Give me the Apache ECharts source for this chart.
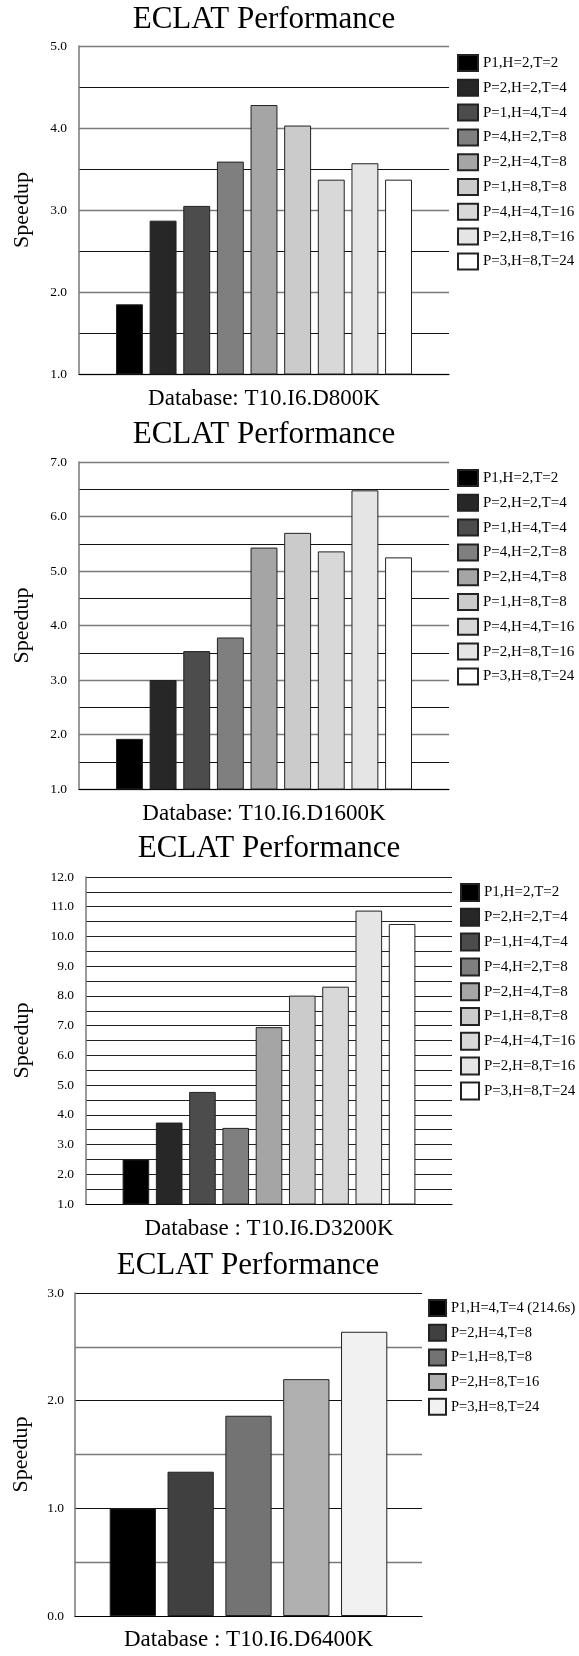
<!DOCTYPE html>
<html>
<head>
<meta charset="utf-8">
<script src="https://cdn.jsdelivr.net/npm/echarts@6/dist/echarts.min.js"></script>
<style>
  html, body { margin: 0; padding: 0; background: #fff; }
  .c { position: absolute; left: 0; width: 579px; }
</style>
</head>
<body>
<div id="c1" class="c" style="top:0px;height:415px"></div>
<div id="c2" class="c" style="top:415px;height:415px"></div>
<div id="c3" class="c" style="top:830px;height:415px"></div>
<div id="c4" class="c" style="top:1245px;height:411px"></div>
<script>
// ---- data ----
const titleText = 'ECLAT Performance';
const yAxisName = 'Speedup';

const names9 = ['P1,H=2,T=2', 'P=2,H=2,T=4', 'P=1,H=4,T=4', 'P=4,H=2,T=8', 'P=2,H=4,T=8',
                'P=1,H=8,T=8', 'P=4,H=4,T=16', 'P=2,H=8,T=16', 'P=3,H=8,T=24'];
const colors9 = ['#000000', '#272727', '#4c4c4c', '#7f7f7f', '#a5a5a5', '#cbcbcb', '#d8d8d8', '#e5e5e5', '#ffffff'];

const d800Name = 'Database: T10.I6.D800K';
const d800Values = [1.85, 2.87, 3.05, 3.59, 4.28, 4.03, 3.37, 3.57, 3.37];

const d1600Name = 'Database: T10.I6.D1600K';
const d1600Values = [1.92, 3.00, 3.53, 3.78, 5.43, 5.70, 5.36, 6.48, 5.25];

const d3200Name = 'Database : T10.I6.D3200K';
const d3200Values = [2.50, 3.74, 4.77, 3.56, 6.95, 8.01, 8.31, 10.87, 10.42];

const names5 = ['P1,H=4,T=4 (214.6s)', 'P=2,H=4,T=8', 'P=1,H=8,T=8', 'P=2,H=8,T=16', 'P=3,H=8,T=24'];
const colors5 = ['#000000', '#404040', '#737373', '#b0b0b0', '#f1f1f1'];
const d6400Name = 'Database : T10.I6.D6400K';
const d6400Values = [1.0, 1.34, 1.86, 2.20, 2.64];

// ---- chart builder ----
const FONT = '"Liberation Serif", "DejaVu Serif", "Times New Roman", serif';

function build(id, cfg) {
  const chart = echarts.init(document.getElementById(id), null, { renderer: 'canvas' });
  const series = cfg.names.map((n, i) => ({
    name: n,
    type: 'bar',
    data: [cfg.values[i]],
    barGap: '25%',
    barCategoryGap: '20%',
    itemStyle: { color: cfg.colors[i], borderColor: '#222', borderWidth: 1 },
    emphasis: { disabled: true },
    animation: false
  }));
  chart.setOption({
    backgroundColor: '#ffffff',
    animation: false,
    title: {
      text: titleText,
      left: cfg.titleX,
      top: cfg.titleTop,
      padding: 0,
      textAlign: 'center',
      textStyle: { fontFamily: FONT, fontSize: 31, fontWeight: 'normal', color: '#000' }
    },
    legend: {
      orient: 'vertical',
      left: cfg.legendLeft,
      top: cfg.legendTop,
      padding: 0,
      icon: 'rect',
      itemWidth: cfg.iconW,
      itemHeight: cfg.iconH,
      itemGap: cfg.legendGap,
      selectedMode: false,
      data: cfg.names,
      textStyle: { fontFamily: FONT, fontSize: cfg.legendFont, color: '#000', lineHeight: 16 }
    },
    grid: {
      left: cfg.left, right: cfg.right, top: cfg.top, bottom: cfg.bottom,
      containLabel: false
    },
    xAxis: {
      type: 'category',
      data: [''],
      name: cfg.xName,
      nameLocation: 'middle',
      nameGap: cfg.xNameGap,
      nameTextStyle: { fontFamily: FONT, fontSize: 23, color: '#000' },
      axisLine: { show: true, lineStyle: { color: '#000', width: 1.2 } },
      axisTick: { show: false },
      axisLabel: { show: false },
      splitLine: { show: false }
    },
    yAxis: {
      type: 'value',
      min: cfg.min,
      max: cfg.max,
      interval: 1,
      name: yAxisName,
      nameLocation: 'middle',
      nameGap: cfg.yNameGap,
      nameTextStyle: { fontFamily: FONT, fontSize: 22, color: '#000' },
      axisLine: { show: true, lineStyle: { color: '#777', width: 1.5 } },
      axisTick: { show: false },
      axisLabel: {
        fontFamily: FONT, fontSize: 13.5, color: '#000', margin: cfg.labelMargin,
        formatter: v => v.toFixed(1)
      },
      splitLine: { show: true, lineStyle: { color: cfg.majorColor, width: cfg.majorWidth } },
      minorTick: { show: false, splitNumber: 2 },
      minorSplitLine: { show: true, lineStyle: { color: cfg.minorColor, width: cfg.minorWidth } }
    },
    series: series
  });
}

build('c1', {
  names: names9, colors: colors9, values: d800Values, xName: d800Name,
  titleX: 264, titleTop: 4,
  left: 79, right: 130, top: 46, bottom: 38,
  min: 1, max: 5, labelMargin: 12, yNameGap: 46, xNameGap: 13,
  legendLeft: 457, legendTop: 54, iconW: 20, iconH: 16, legendGap: 6.8, legendFont: 15,
  majorColor: '#7a7a7a', majorWidth: 1.4, minorColor: '#111', minorWidth: 1
});
build('c2', {
  names: names9, colors: colors9, values: d1600Values, xName: d1600Name,
  titleX: 264, titleTop: 4,
  left: 79, right: 130, top: 47, bottom: 37,
  min: 1, max: 7, labelMargin: 12, yNameGap: 46, xNameGap: 13,
  legendLeft: 457, legendTop: 54, iconW: 20, iconH: 16, legendGap: 6.8, legendFont: 15,
  majorColor: '#7a7a7a', majorWidth: 1.4, minorColor: '#111', minorWidth: 1
});
build('c3', {
  names: names9, colors: colors9, values: d3200Values, xName: d3200Name,
  titleX: 269, titleTop: 3,
  left: 86, right: 127, top: 47, bottom: 37,
  min: 1, max: 12, labelMargin: 12, yNameGap: 53, xNameGap: 13,
  legendLeft: 460, legendTop: 53, iconW: 18, iconH: 17, legendGap: 5.8, legendFont: 15,
  majorColor: '#222', majorWidth: 1, minorColor: '#222', minorWidth: 1
});
build('c4', {
  names: names5, colors: colors5, values: d6400Values, xName: d6400Name,
  titleX: 248, titleTop: 5,
  left: 75, right: 157, top: 48, bottom: 32,
  min: 0, max: 3, labelMargin: 11, yNameGap: 43, xNameGap: 12,
  legendLeft: 428, legendTop: 54, iconW: 17, iconH: 16, legendGap: 6.7, legendFont: 14.5,
  majorColor: '#111', majorWidth: 1, minorColor: '#7a7a7a', minorWidth: 1.4
});
</script>
</body>
</html>
